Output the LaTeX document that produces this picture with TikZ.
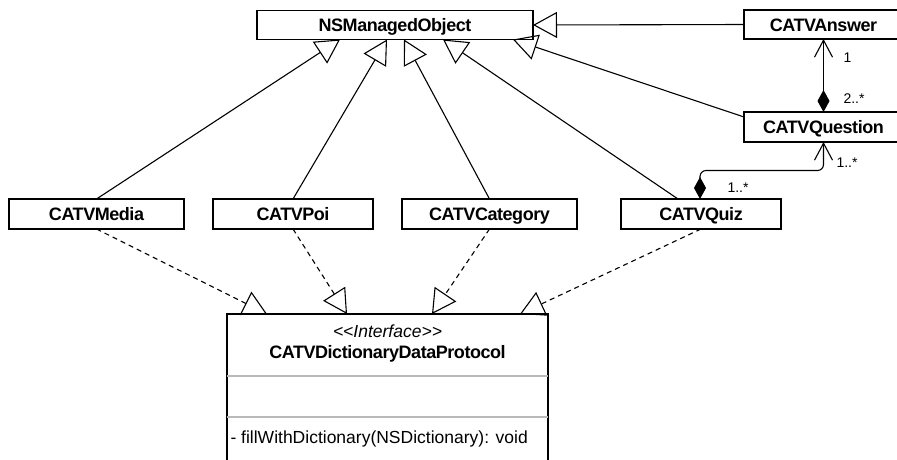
\documentclass[tikz,border=0pt]{standalone}
\usepackage{fontspec}
\setmainfont{Liberation Sans}
\usetikzlibrary{arrows.meta,calc}

\begin{document}
\begin{tikzpicture}[x=1pt,y=-1pt,
  line width=1.1pt,
  namefont/.style={font=\fontsize{18}{21}\selectfont\bfseries\addfontfeatures{LetterSpace=-2.5}},
  cls/.style={draw, fill=white, inner sep=0pt, outer sep=0pt, text height=13pt, text depth=0pt, namefont},
  gen/.style={-{Triangle[open,length=24pt,width=26pt]}},
  real/.style={gen, dash pattern=on 5pt off 4pt},
  comp/.style={{Diamond[length=22pt,width=12pt]}-{Straight Barb[length=17pt,width=18pt]}},
  mult/.style={font=\fontsize{14}{16}\selectfont, inner sep=0pt, anchor=base west},
  txt/.style={inner sep=0pt, font=\fontsize{17.5}{20}\selectfont},
]
\useasboundingbox (0,0) rectangle (897,459);
\clip (0,0) rectangle (897,459);

% classes
\node[cls, minimum width=276, minimum height=29] (nsmo) at (395,25) {NSManagedObject};
\node[cls, minimum width=159, minimum height=29] (ans) at (823.5,24.5) {CATVAnswer};
\node[cls, minimum width=159, minimum height=30] (que) at (823.5,127) {CATVQuestion};
\node[cls, minimum width=175, minimum height=30] (media) at (96.5,214) {CATVMedia};
\node[cls, minimum width=160, minimum height=30] (poi) at (293,214) {CATVPoi};
\node[cls, minimum width=175, minimum height=30] (cat) at (489.5,214) {CATVCategory};
\node[cls, minimum width=160, minimum height=30] (quiz) at (701,214) {CATVQuiz};

% interface
\node[draw, fill=white, inner sep=0pt, outer sep=0pt, minimum width=321, minimum height=170] (iface) at (387.5,399) {};
\node[txt, anchor=base, font=\fontsize{17.5}{20}\selectfont\itshape] (stereo) at ($(iface.north)+(0,23)$) {<\kern0pt<Interface>\kern0pt>};
\node[inner sep=0pt, anchor=base, namefont] (iname) at ($(iface.north)+(0,44.5)$) {CATVDictionaryDataProtocol};
\draw[gray!55] ($(iface.north west)+(0,62)$) -- ($(iface.north east)+(0,62)$);
\draw[gray!55] ($(iface.north west)+(0,103)$) -- ($(iface.north east)+(0,103)$);
\node[txt, anchor=base west] (op) at ($(iface.north west)+(3,129)$) {- fillWithDictionary(NSDictionary): void};

% generalizations
\draw[gen] (media.north) -- ($(nsmo.south west)+(83,0)$);
\draw[gen] (poi.north) -- ($(nsmo.south west)+(130,0)$);
\draw[gen] (cat.north) -- ($(nsmo.south west)+(147,0)$);
\draw[gen] ($(quiz.north west)+(57,0)$) -- ($(nsmo.south west)+(186,0)$);
\draw[gen] ($(que.north west)+(0,5)$) -- ($(nsmo.south west)+(256,0)$);
\draw[gen] (ans.west) -- (nsmo.east);

% realizations
\draw[real] (media.south) -- ($(iface.north west)+(40,0)$);
\draw[real] (poi.south) -- ($(iface.north west)+(120,0)$);
\draw[real] (cat.south) -- ($(iface.north west)+(205,0)$);
\draw[real] (quiz.south) -- ($(iface.north west)+(293,0)$);

% compositions
\draw[comp] (que.north) -- (ans.south);
\draw[comp, rounded corners=6pt] ($(quiz.north west)+(79,0)$) -- ++(0,-28.5) -| (que.south);

% multiplicities
\node[mult] (m1) at (843,62) {1};
\node[mult] (m2) at (843,103) {2..*};
\node[mult] (m3) at (836,167) {1..*};
\node[mult] (m4) at (727,192) {1..*};
\end{tikzpicture}
\end{document}
